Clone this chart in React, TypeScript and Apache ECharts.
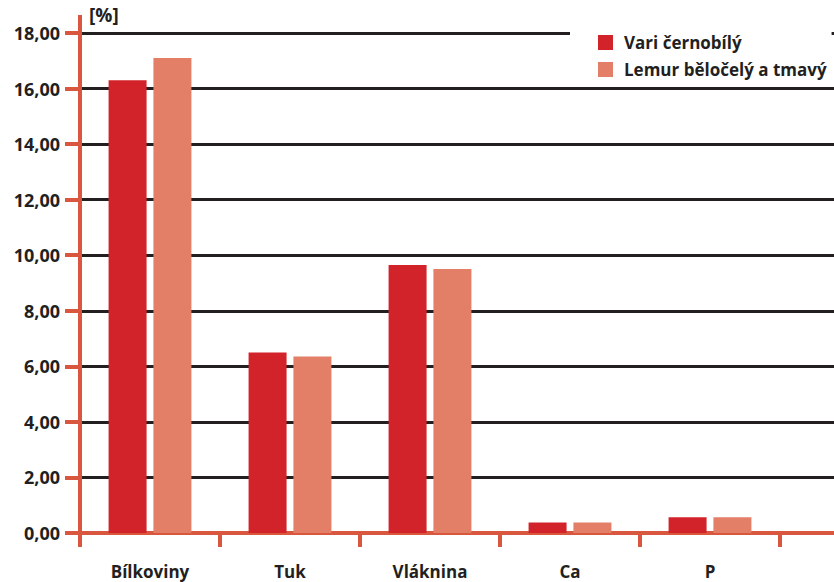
import React, { useEffect, useRef } from "react";
import * as echarts from "echarts";

const categories = ["Bílkoviny", "Tuk", "Vláknina", "Ca", "P"];
const seriesNames = ["Vari černobílý", "Lemur běločelý a tmavý"];
const variValues = [16.3, 6.5, 9.65, 0.38, 0.57];
const lemurValues = [17.1, 6.35, 9.5, 0.38, 0.57];
const yMin = 0;
const yMax = 18;
const yInterval = 2;
const unitLabel = "[%]";

const RED = "#d2232a";
const SALMON = "#e27f66";
const AXIS = "#d9573f";
const GRID = "#231f20";
const TEXT = "#231f20";
const FONT = "'Open Sans', 'Noto Sans', sans-serif";

export default function App() {
  const ref = useRef<HTMLDivElement>(null);
  useEffect(() => {
    if (!ref.current) return;
    const chart = echarts.init(ref.current, undefined, { renderer: "svg" });
    chart.setOption({
      animation: false,
      backgroundColor: "#ffffff",
      textStyle: { fontFamily: FONT },
      grid: [
        { left: 80, right: 0, top: 33, bottom: 49 },
        { left: 80, width: 700, top: 33, bottom: 49 },
      ],
      legend: {
        left: 570,
        top: 18,
        orient: "vertical",
        padding: [16, 5, 6, 28],
        backgroundColor: "#ffffff",
        itemWidth: 15,
        itemHeight: 15,
        itemGap: 10,
        icon: "rect",
        z: 10,
        textStyle: { fontFamily: FONT, fontWeight: "bold", fontSize: 17, color: TEXT, padding: [0, 0, 0, 6] },
        data: seriesNames,
      },
      xAxis: [
        {
          type: "value",
          gridIndex: 0,
          min: 0,
          max: 1,
          axisLine: { show: true, lineStyle: { color: AXIS, width: 4 } },
          axisTick: { show: false },
          axisLabel: { show: false },
          splitLine: { show: false },
        },
        {
          type: "category",
          gridIndex: 1,
          data: categories,
          axisLine: { show: true, lineStyle: { color: AXIS, width: 4 } },
          axisTick: { show: true, length: 14, lineStyle: { color: AXIS, width: 4 } },
          axisLabel: { margin: 30, fontFamily: FONT, fontWeight: "bold", fontSize: 17, color: TEXT },
        },
      ],
      yAxis: [
        {
          type: "value",
          gridIndex: 0,
          min: yMin,
          max: yMax,
          interval: yInterval,
          axisLine: { show: true, lineStyle: { color: AXIS, width: 4 } },
          axisTick: { show: true, length: 15, lineStyle: { color: AXIS, width: 4 } },
          axisLabel: {
            margin: 20,
            fontFamily: FONT,
            fontWeight: "bold",
            fontSize: 18,
            color: TEXT,
            formatter: (v: number) => v.toFixed(2).replace(".", ","),
          },
          splitLine: { show: true, showMinLine: false, lineStyle: { color: GRID, width: 3 } },
        },
        {
          type: "value",
          gridIndex: 1,
          min: yMin,
          max: yMax,
          interval: yInterval,
          show: false,
          splitLine: { show: false },
        },
      ],
      graphic: [
        {
          type: "line",
          shape: { x1: 80, y1: 15, x2: 80, y2: 34 },
          style: { stroke: AXIS, lineWidth: 4 },
          z: 5,
        },
        {
          type: "text",
          left: 89,
          top: 5,
          style: { text: unitLabel, fontFamily: FONT, fontWeight: "bold", fontSize: 19, fill: TEXT },
        },
      ],
      series: [
        {
          name: seriesNames[0],
          type: "bar",
          xAxisIndex: 1,
          yAxisIndex: 1,
          data: variValues,
          barWidth: 38,
          barGap: "18%",
          itemStyle: { color: RED },
        },
        {
          name: seriesNames[1],
          type: "bar",
          xAxisIndex: 1,
          yAxisIndex: 1,
          data: lemurValues,
          barWidth: 38,
          barGap: "18%",
          itemStyle: { color: SALMON },
        },
      ],
    });
    return () => chart.dispose();
  }, []);
  return (
    <div
      ref={ref}
      style={{ position: "fixed", left: 0, top: 0, width: 834, height: 582 }}
    />
  );
}
